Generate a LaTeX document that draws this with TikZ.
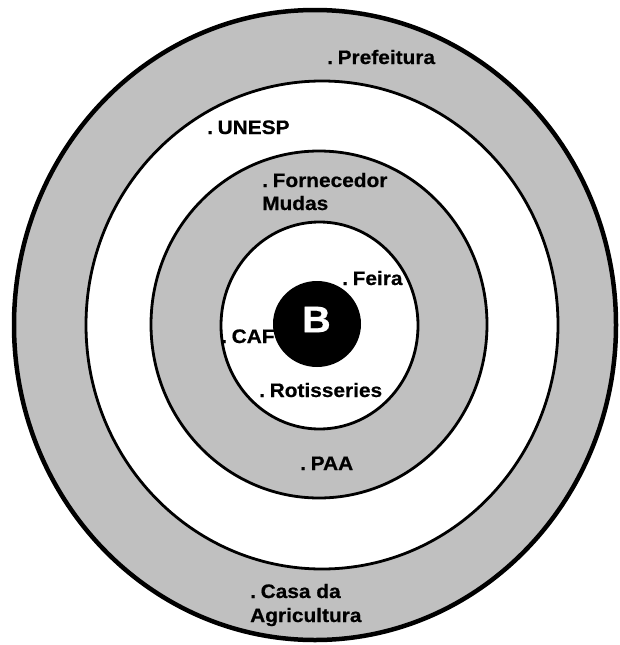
\documentclass[tikz,border=0pt]{standalone}
\usepackage{fontspec}
\setmainfont{Liberation Sans}
\newfontfamily\lblfont[FakeBold=0.6,FakeStretch=1.07]{Liberation Sans Bold}
\usetikzlibrary{shapes.geometric}
\definecolor{ringgray}{RGB}{192,192,192}
\newcommand{\dotsp}{.\hspace{0.24em}}
\begin{document}
\begin{tikzpicture}[x=1pt,y=-1pt,
  ring/.style={draw=black,line width=2.8pt},
  outerring/.style={draw=black,line width=4.5pt},
  lbl/.style={anchor=base west,inner sep=0pt,font=\fontsize{19.5}{23}\lblfont,text=black},
  core/.style={ellipse,fill=black,draw=none,minimum width=88pt,minimum height=86pt,inner sep=0pt},
  corelbl/.style={inner sep=0pt,font=\fontsize{37}{40}\lblfont,text=white}]
\useasboundingbox (0,0) rectangle (620,645);
\fill[white] (0,0) rectangle (620,645);
% rings
\draw[outerring,fill=ringgray] (315,325) ellipse [x radius=301, y radius=315];
\draw[ring,fill=white] (322,325) ellipse [x radius=236, y radius=244];
\draw[ring,fill=ringgray] (319,324.5) ellipse [x radius=168, y radius=173.5];
\draw[ring,fill=white] (319.5,325.5) ellipse [x radius=98.5, y radius=103.5];
% core
\node[core] (core) at (317,324) {};
\node[corelbl] (b) at (316.5,319.5) {B};
% labels
\node[lbl] (prefeitura) at (327,64) {\dotsp Prefeitura};
\node[lbl] (unesp) at (207,134) {\dotsp UNESP};
\node[lbl] (fornecedor) at (262,187) {\dotsp Fornecedor};
\node[lbl] (mudas) at (262,210) {Mudas};
\node[lbl] (feira) at (342,285) {\dotsp Feira};
\node[lbl] (caf) at (221,343) {\dotsp CAF};
\node[lbl] (rotisseries) at (259,397) {\dotsp Rotisseries};
\node[lbl] (paa) at (300,470) {\dotsp PAA};
\node[lbl] (casa) at (250,598) {\dotsp Casa da};
\node[lbl] (agricultura) at (250,622) {Agricultura};
\end{tikzpicture}
\end{document}
